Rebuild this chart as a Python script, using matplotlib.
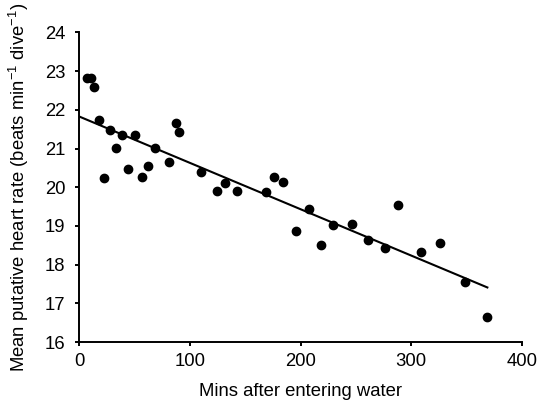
import matplotlib
matplotlib.use("Agg")
import matplotlib.pyplot as plt

plt.rcParams['font.family'] = ['Liberation Sans', 'DejaVu Sans']
plt.rcParams['mathtext.fontset'] = 'custom'
plt.rcParams['mathtext.rm'] = 'Liberation Sans'
plt.rcParams['mathtext.it'] = 'Liberation Sans:italic'

# values
mins = [6.9, 10.6, 13.5, 18.1, 22.3, 28.3, 33.4, 38.6, 44.5, 50.6, 56.6, 62.3,
        68.6, 81.3, 87.3, 90.3, 110.4, 124.3, 132.1, 142.4, 168.6, 176.3, 184.5,
        195.7, 207.7, 218.5, 229.6, 246.8, 261.0, 276.3, 288.3, 308.8, 326.3,
        348.5, 368.4]
heart_rate = [22.83, 22.83, 22.59, 21.73, 20.23, 21.48, 21.02, 21.35, 20.46, 21.35,
              20.27, 20.55, 21.02, 20.66, 21.66, 21.42, 20.40, 19.90, 20.10, 19.90,
              19.87, 20.27, 20.14, 18.86, 19.45, 18.50, 19.03, 19.05, 18.63, 18.42,
              19.55, 18.33, 18.56, 17.54, 16.65]

# regression line ends
fit_x = [0, 368.7]
fit_y = [21.83, 17.41]

xticks = [0, 100, 200, 300, 400]
yticks = [16, 17, 18, 19, 20, 21, 22, 23, 24]

fig = plt.figure(figsize=(5.39, 4.07), dpi=100)
ax = fig.add_axes([0.1466, 0.1597, 0.8219, 0.7605])

ax.plot(fit_x, fit_y, color='black', linewidth=1.5, zorder=2)
ax.plot(mins, heart_rate, 'o', color='black', markersize=6, zorder=3)

ax.set_xlim(0, 400)
ax.set_ylim(16, 24)
ax.set_xticks(xticks)
ax.set_yticks(yticks)

for side in ['top', 'right']:
    ax.spines[side].set_visible(False)
for side in ['left', 'bottom']:
    ax.spines[side].set_linewidth(1.4)

ax.tick_params(axis='both', direction='out', length=3, width=1.4,
               labelsize=13.3, colors='black')
ax.tick_params(axis='x', pad=5)
ax.tick_params(axis='y', pad=7)

ax.set_xlabel('Mins after entering water', fontsize=13.3)
ax.set_ylabel('Mean putative heart rate (beats min$^{-1}$ dive$^{-1}$)', fontsize=13.3)
ax.xaxis.set_label_coords(0.5, -0.132)
ax.yaxis.set_label_coords(-0.108, 0.5)

fig.savefig('out.png', dpi=100)
